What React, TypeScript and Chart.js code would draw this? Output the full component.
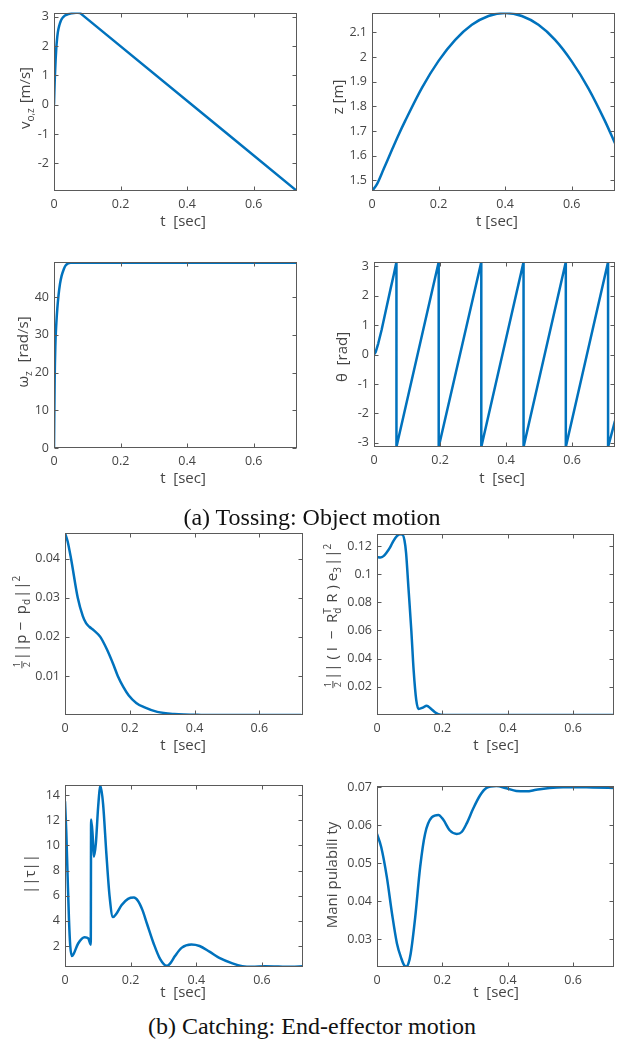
import React, { useEffect, useRef } from "react";
import { Chart, registerables } from "chart.js";
Chart.register(...registerables);

const LINE = "#0072BD";
const INK = "#454545";
const FRAME = "#5a5a5a";
const SANS = '"Open Sans", "Liberation Sans", Arial, sans-serif';
const SERIF = '"Liberation Serif", "Times New Roman", serif';

// ---------- data ----------
const xTickVals = [0, 0.2, 0.4, 0.6];

const velT = [0, 0.001, 0.002, 0.003, 0.005, 0.007, 0.009, 0.011, 0.013, 0.015, 0.018, 0.021, 0.024, 0.027, 0.031, 0.035, 0.041, 0.047, 0.054, 0.06, 0.066, 0.072, 0.078, 0.085, 0.73];
const velV = [0, 0.4, 0.75, 1.05, 1.55, 1.95, 2.22, 2.42, 2.56, 2.66, 2.78, 2.87, 2.93, 2.98, 3.02, 3.05, 3.08, 3.1, 3.115, 3.125, 3.13, 3.132, 3.125, 3.06, -2.94];
const velTicks = [-2, -1, 0, 1, 2, 3];

const zT = [0, 0.015, 0.035, 0.06, 0.08, 0.1, 0.15, 0.2, 0.25, 0.3, 0.35, 0.4, 0.45, 0.5, 0.55, 0.6, 0.65, 0.7, 0.73];
const zV = [1.457, 1.485, 1.546, 1.624, 1.685, 1.742, 1.875, 1.984, 2.069, 2.13, 2.166, 2.178, 2.166, 2.13, 2.069, 1.982, 1.873, 1.74, 1.65];
const zTicks = [1.5, 1.6, 1.7, 1.8, 1.9, 2, 2.1];

const omT = [0, 0.002, 0.004, 0.007, 0.01, 0.013, 0.018, 0.023, 0.029, 0.035, 0.042, 0.05, 0.73];
const omV = [0, 18, 27, 33, 37, 40, 43.5, 45.7, 47.3, 48.4, 48.9, 49.1, 49.1];
const omTicks = [0, 10, 20, 30, 40];

const thT = [0, 0.005, 0.013, 0.023, 0.035, 0.05, 0.06, 0.068, 0.068, 0.196, 0.196, 0.325, 0.325, 0.453, 0.453, 0.581, 0.581, 0.709, 0.709, 0.73];
const thV = [0, 0.08, 0.38, 0.83, 1.45, 2.22, 2.72, 3.1416, -3.1416, 3.1416, -3.1416, 3.1416, -3.1416, 3.1416, -3.1416, 3.1416, -3.1416, 3.1416, -3.1416, -2.25];
const thTicks = [-3, -2, -1, 0, 1, 2, 3];

const pT = [0, 0.008, 0.0187, 0.0394, 0.055, 0.065, 0.075, 0.09, 0.109, 0.13, 0.15, 0.163, 0.18, 0.197, 0.22, 0.244, 0.285, 0.337, 0.42, 0.5, 0.73];
const pV = [0.0466, 0.0445, 0.04, 0.03, 0.0253, 0.0235, 0.0226, 0.0216, 0.02, 0.0167, 0.0128, 0.01, 0.0072, 0.005, 0.0031, 0.002, 0.0008, 0.00025, 0.00003, 0, 0];
const pTicks = [0.01, 0.02, 0.03, 0.04];

const oT = [0, 0.01, 0.02, 0.03, 0.04, 0.05, 0.06, 0.07, 0.078, 0.084, 0.089, 0.096, 0.105, 0.112, 0.12, 0.127, 0.14, 0.152, 0.165, 0.18, 0.195, 0.22, 0.73];
const oV = [0.112, 0.1118, 0.1128, 0.1155, 0.119, 0.1235, 0.1268, 0.1283, 0.128, 0.124, 0.115, 0.091, 0.06, 0.032, 0.0107, 0.0043, 0.0052, 0.0066, 0.0045, 0.0015, 0.0002, 0, 0];
const oTicks = [0.02, 0.04, 0.06, 0.08, 0.1, 0.12];

const tauT = [0, 0.004, 0.008, 0.012, 0.016, 0.021, 0.026, 0.04, 0.06, 0.071, 0.0785, 0.0795, 0.084, 0.088, 0.094, 0.101, 0.108, 0.116, 0.126, 0.136, 0.146, 0.157, 0.172, 0.192, 0.21, 0.222, 0.236, 0.25, 0.27, 0.29, 0.31, 0.32, 0.335, 0.355, 0.385, 0.41, 0.44, 0.47, 0.51, 0.54, 0.57, 0.61, 0.65, 0.69, 0.725];
const tauV = [13.5, 11, 7.5, 4.2, 2.0, 1.2, 1.35, 2.2, 2.7, 2.6, 2.1, 12.06, 10.9, 9.1, 10.15, 13.07, 14.75, 13.3, 9.35, 5.9, 4.3, 4.58, 5.24, 5.75, 5.85, 5.6, 4.85, 3.75, 2.2, 0.95, 0.42, 0.6, 1.2, 1.85, 2.12, 2.0, 1.55, 1.05, 0.62, 0.4, 0.34, 0.38, 0.36, 0.34, 0.38];
const tauTicks = [2, 4, 6, 8, 10, 12, 14];

const mT = [0, 0.013, 0.03, 0.046, 0.061, 0.075, 0.082, 0.089, 0.096, 0.103, 0.117, 0.132, 0.147, 0.168, 0.188, 0.203, 0.223, 0.244, 0.259, 0.274, 0.294, 0.315, 0.335, 0.365, 0.396, 0.426, 0.457, 0.487, 0.528, 0.569, 0.609, 0.66, 0.73];
const mV = [0.0577, 0.0542, 0.0464, 0.0367, 0.0289, 0.0248, 0.0233, 0.0228, 0.0236, 0.0262, 0.0359, 0.049, 0.0577, 0.0621, 0.0627, 0.0614, 0.0586, 0.0577, 0.0582, 0.0604, 0.0643, 0.0678, 0.0698, 0.0703, 0.0697, 0.069, 0.0689, 0.0693, 0.0698, 0.07, 0.07, 0.0699, 0.0698];
const mTicks = [0.03, 0.04, 0.05, 0.06, 0.07];

// ---------- layout ----------
type Seg = { k: "n" | "sub" | "sup" | "frac" | "subsup"; t?: string; a?: string; b?: string };

type Panel = {
  key: string;
  canvas: { x: number; y: number; w: number; h: number };
  box: { l: number; r: number; t: number; b: number };
  xs: number[];
  ys: number[];
  yMin: number;
  yMax: number;
  xMax: number;
  yTicks: number[];
  smooth: boolean;
  yTitle: Seg[];
  yTitlePos: [number, number];
  xTitle: string;
  xTitlePos: [number, number];
};

const panels: Panel[] = [
  {
    key: "v", canvas: { x: 0, y: 0, w: 312, h: 240 }, box: { l: 54, r: 297, t: 5, b: 191 },
    xs: velT, ys: velV, yMin: -2.94, yMax: 3.14, xMax: 0.73, yTicks: velTicks, smooth: true,
    yTitle: [{ k: "n", t: "v" }, { k: "sub", t: "o,z" }, { k: "n", t: " [m/s]" }], yTitlePos: [25, 98],
    xTitle: "t  [sec]", xTitlePos: [183, 222],
  },
  {
    key: "z", canvas: { x: 312, y: 0, w: 312, h: 240 }, box: { l: 372, r: 615, t: 5, b: 191 },
    xs: zT, ys: zV, yMin: 1.457, yMax: 2.18, xMax: 0.73, yTicks: zTicks, smooth: true,
    yTitle: [{ k: "n", t: "z [m]" }], yTitlePos: [338, 97],
    xTitle: "t [sec]", xTitlePos: [497, 222],
  },
  {
    key: "w", canvas: { x: 0, y: 240, w: 312, h: 260 }, box: { l: 54, r: 297, t: 262, b: 448 },
    xs: omT, ys: omV, yMin: 0, yMax: 49.3, xMax: 0.73, yTicks: omTicks, smooth: true,
    yTitle: [{ k: "n", t: "ω" }, { k: "sub", t: "z" }, { k: "n", t: "  [rad/s]" }], yTitlePos: [23, 352],
    xTitle: "t  [sec]", xTitlePos: [183, 479],
  },
  {
    key: "th", canvas: { x: 312, y: 240, w: 312, h: 260 }, box: { l: 374, r: 615, t: 262, b: 447 },
    xs: thT, ys: thV, yMin: -3.1416, yMax: 3.1416, xMax: 0.73, yTicks: thTicks, smooth: false,
    yTitle: [{ k: "n", t: "θ  [rad]" }], yTitlePos: [342, 357],
    xTitle: "t  [sec]", xTitlePos: [502, 479],
  },
  {
    key: "p", canvas: { x: 0, y: 500, w: 312, h: 262 }, box: { l: 65, r: 303, t: 533, b: 715 },
    xs: pT, ys: pV, yMin: 0, yMax: 0.0466, xMax: 0.735, yTicks: pTicks, smooth: true,
    yTitle: [{ k: "frac" }, { k: "n", t: "||p −  p" }, { k: "sub", t: "d" }, { k: "n", t: "||" }, { k: "sup", t: "2" }],
    yTitlePos: [21, 622],
    xTitle: "t  [sec]", xTitlePos: [183, 746],
  },
  {
    key: "o", canvas: { x: 312, y: 500, w: 312, h: 262 }, box: { l: 377, r: 614, t: 534, b: 715 },
    xs: oT, ys: oV, yMin: 0, yMax: 0.1285, xMax: 0.725, yTicks: oTicks, smooth: true,
    yTitle: [
      { k: "frac" }, { k: "n", t: "|| ( I  −  R" }, { k: "subsup", a: "T", b: "d" },
      { k: "n", t: " R ) e" }, { k: "sub", t: "3" }, { k: "n", t: "||" }, { k: "sup", t: "2" },
    ],
    yTitlePos: [332, 616],
    xTitle: "t  [sec]", xTitlePos: [496, 746],
  },
  {
    key: "tau", canvas: { x: 0, y: 762, w: 312, h: 244 }, box: { l: 65, r: 303, t: 785, b: 967 },
    xs: tauT, ys: tauV, yMin: 0.33, yMax: 14.8, xMax: 0.725, yTicks: tauTicks, smooth: true,
    yTitle: [{ k: "n", t: "||τ||" }], yTitlePos: [30, 874],
    xTitle: "t  [sec]", xTitlePos: [183, 993],
  },
  {
    key: "m", canvas: { x: 312, y: 762, w: 312, h: 244 }, box: { l: 377, r: 614, t: 786, b: 967 },
    xs: mT, ys: mV, yMin: 0.0227, yMax: 0.0703, xMax: 0.725, yTicks: mTicks, smooth: true,
    yTitle: [{ k: "n", t: "Mani pulabili ty" }], yTitlePos: [332, 875],
    xTitle: "t  [sec]", xTitlePos: [496, 993],
  },
];

// ---------- rich text ----------
function drawRich(ctx: CanvasRenderingContext2D, segs: Seg[], cx: number, cy: number, size: number) {
  const big = `${size}px ${SANS}`;
  const small = `${Math.round(size * 0.68)}px ${SANS}`;
  const tiny = `${Math.round(size * 0.62)}px ${SANS}`;
  const widthOf = (s: Seg): number => {
    if (s.k === "n") { ctx.font = big; return ctx.measureText(s.t || "").width; }
    if (s.k === "sub" || s.k === "sup") { ctx.font = small; return ctx.measureText(s.t || "").width + 1; }
    if (s.k === "subsup") {
      ctx.font = small;
      return Math.max(ctx.measureText(s.a || "").width, ctx.measureText(s.b || "").width) + 1;
    }
    ctx.font = tiny;
    return ctx.measureText("2").width + 4;
  };
  ctx.save();
  ctx.translate(cx, cy);
  ctx.rotate(-Math.PI / 2);
  ctx.textBaseline = "alphabetic";
  ctx.textAlign = "left";
  const ws = segs.map(widthOf);
  const total = ws.reduce((a, b) => a + b, 0);
  let x = -total / 2;
  const base = size * 0.36;
  segs.forEach((s, i) => {
    if (s.k === "n") {
      ctx.font = big; ctx.fillText(s.t || "", x, base);
    } else if (s.k === "sub") {
      ctx.font = small; ctx.fillText(s.t || "", x, base + size * 0.22);
    } else if (s.k === "sup") {
      ctx.font = small; ctx.fillText(s.t || "", x, base - size * 0.42);
    } else if (s.k === "subsup") {
      ctx.font = small;
      ctx.fillText(s.a || "", x, base - size * 0.42);
      ctx.fillText(s.b || "", x, base + size * 0.22);
    } else {
      ctx.font = tiny;
      const mid = base - size * 0.3;
      const cxm = x + ws[i] / 2;
      ctx.textAlign = "center";
      ctx.fillText("1", cxm, mid - 1.5);
      ctx.fillText("2", cxm, mid + size * 0.46 + 1);
      ctx.textAlign = "left";
      ctx.fillRect(x + 1, mid - 0.5, ws[i] - 2, 1);
    }
    x += ws[i];
  });
  ctx.restore();
}

function PanelChart({ p }: { p: Panel }) {
  const ref = useRef<HTMLCanvasElement | null>(null);
  const { x: cx, y: cy, w, h } = p.canvas;
  useEffect(() => {
    const c = ref.current;
    if (!c) return;
    const { l, r, t, b } = p.box;
    const framePlugin = {
      id: "frame_" + p.key,
      afterDraw(chart: any) {
        const ctx: CanvasRenderingContext2D = chart.ctx;
        const a = chart.chartArea;
        const xs = chart.scales.x;
        const ys = chart.scales.y;
        ctx.save();
        ctx.strokeStyle = FRAME;
        ctx.lineWidth = 1;
        const L = Math.round(a.left) + 0.5;
        const R = Math.round(a.right) - 0.5;
        const T = Math.round(a.top) + 0.5;
        const B = Math.round(a.bottom) - 0.5;
        ctx.strokeRect(L, T, R - L, B - T);
        const tl = 4;
        ctx.beginPath();
        for (const v of xTickVals) {
          const px = Math.round(xs.getPixelForValue(v)) + 0.5;
          ctx.moveTo(px, B); ctx.lineTo(px, B - tl);
          ctx.moveTo(px, T); ctx.lineTo(px, T + tl);
        }
        for (const v of p.yTicks) {
          const py = Math.round(ys.getPixelForValue(v)) + 0.5;
          ctx.moveTo(L, py); ctx.lineTo(L + tl, py);
          ctx.moveTo(R, py); ctx.lineTo(R - tl, py);
        }
        ctx.stroke();
        ctx.fillStyle = INK;
        drawRich(ctx, p.yTitle, p.yTitlePos[0] - cx, p.yTitlePos[1] - cy, 15);
        ctx.font = `15px ${SANS}`;
        ctx.textAlign = "center";
        ctx.textBaseline = "middle";
        ctx.fillText(p.xTitle, p.xTitlePos[0] - cx, p.xTitlePos[1] - cy);
        ctx.restore();
      },
    };
    const tickFont = { family: SANS, size: 12.5 };
    const chart = new Chart(c, {
      type: "line",
      data: {
        datasets: [
          {
            data: p.xs.map((xv, i) => ({ x: xv, y: p.ys[i] })),
            borderColor: LINE,
            backgroundColor: LINE,
            borderWidth: 2.5,
            pointRadius: 0,
            fill: false,
            tension: 0,
            cubicInterpolationMode: p.smooth ? "monotone" : "default",
            borderJoinStyle: "round",
          },
        ],
      },
      options: {
        animation: false,
        responsive: false,
        maintainAspectRatio: false,
        devicePixelRatio: 1,
        layout: { padding: { top: t - cy, right: cx + w - r, left: 0, bottom: 0 } },
        plugins: { legend: { display: false }, tooltip: { enabled: false }, title: { display: false } },
        scales: {
          x: {
            type: "linear",
            min: 0,
            max: p.xMax,
            afterBuildTicks: (s: any) => { s.ticks = xTickVals.map((v) => ({ value: v })); },
            afterFit: (s: any) => { s.height = cy + h - b; },
            grid: { display: false, drawTicks: false },
            border: { display: false },
            ticks: { autoSkip: false, maxRotation: 0, padding: 6, color: INK, font: tickFont, callback: (v: any) => String(v) },
          },
          y: {
            type: "linear",
            min: p.yMin,
            max: p.yMax,
            afterBuildTicks: (s: any) => { s.ticks = p.yTicks.map((v) => ({ value: v })); },
            afterFit: (s: any) => { s.width = l - cx; },
            grid: { display: false, drawTicks: false },
            border: { display: false },
            ticks: { autoSkip: false, padding: 5, color: INK, font: tickFont, callback: (v: any) => String(v) },
          },
        },
      } as any,
      plugins: [framePlugin],
    } as any);
    return () => chart.destroy();
  }, [p]);
  return (
    <canvas
      ref={ref}
      width={w}
      height={h}
      style={{ position: "absolute", left: cx, top: cy, width: w, height: h }}
    />
  );
}

export default function App() {
  const cap: React.CSSProperties = {
    position: "absolute",
    left: 0,
    width: 624,
    textAlign: "center",
    fontFamily: SERIF,
    fontSize: 24,
    lineHeight: "28px",
    color: "#111",
    whiteSpace: "nowrap",
  };
  return (
    <div style={{ position: "absolute", left: 0, top: 0, width: 624, height: 1046, background: "#fff", overflow: "hidden" }}>
      {panels.map((p) => (
        <PanelChart key={p.key} p={p} />
      ))}
      <div style={{ ...cap, top: 503 }}>(a) Tossing: Object motion</div>
      <div style={{ ...cap, top: 1012 }}>(b) Catching: End-effector motion</div>
    </div>
  );
}
